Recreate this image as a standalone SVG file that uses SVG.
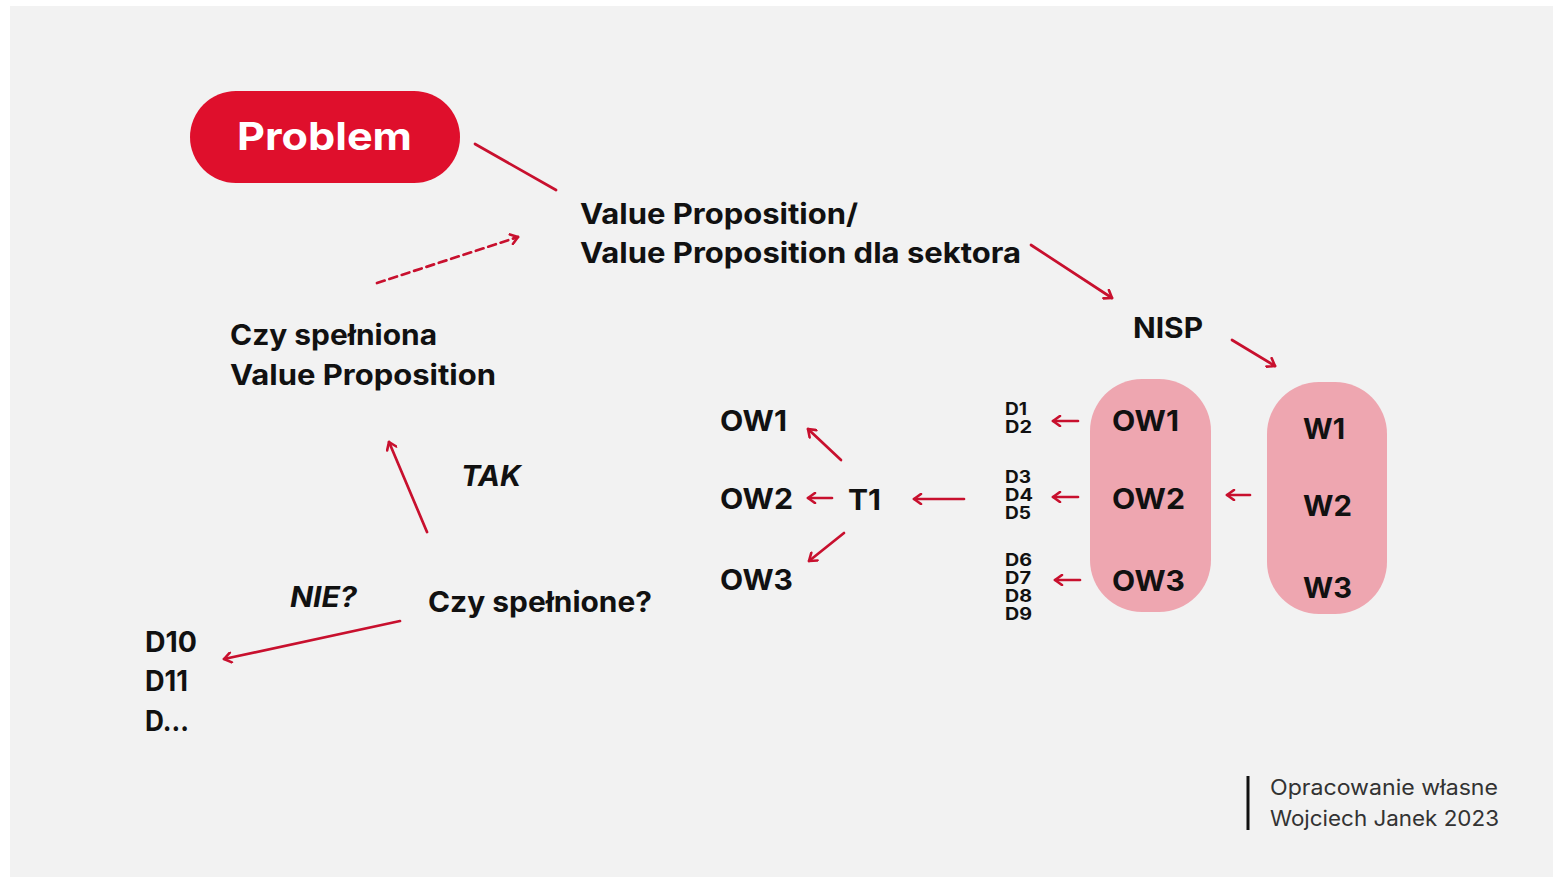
<svg xmlns="http://www.w3.org/2000/svg" width="1553" height="878" viewBox="0 0 1553 878">
  <defs>
    <marker id="head" viewBox="0 0 12 12" refX="10" refY="6" markerWidth="12" markerHeight="12" markerUnits="userSpaceOnUse" orient="auto">
      <path d="M3,1 L10,6 L3,11" fill="none" stroke="#c8102e" stroke-width="2.6" stroke-linecap="round" stroke-linejoin="round"/>
    </marker>
    <style>
      text { font-family: Inter, "Liberation Sans", sans-serif; }
      .b { font-weight: 700; fill: #111; }
      .bi { font-weight: 700; font-style: italic; fill: #111; }
      .l { font-size: 28px; }
      .s { font-size: 17px; }
      .foot { font-weight: 400; font-size: 21px; fill: #333; }
      .arr { fill: none; stroke: #c8102e; stroke-width: 2.7; stroke-linecap: round; }
      .pill { fill: #eea6b0; }
    </style>
  </defs>

  <!-- backdrop -->
  <rect x="0" y="0" width="1553" height="878" fill="#ffffff"/>
  <rect x="10" y="6" width="1543" height="871" fill="#f2f2f2"/>

  <g id="problem">
    <rect x="190" y="91" width="270" height="92" rx="46" fill="#df0f2c"/>
    <text x="237" y="150" font-weight="700" font-size="38" fill="#ffffff" textLength="175" lengthAdjust="spacingAndGlyphs">Problem</text>
  </g>

  <g id="value-proposition">
    <text class="b l" x="580" y="224" textLength="278" lengthAdjust="spacingAndGlyphs">Value Proposition/</text>
    <text class="b l" x="580" y="263" textLength="441" lengthAdjust="spacingAndGlyphs">Value Proposition dla sektora</text>
  </g>

  <g id="nisp">
    <text class="b l" x="1133" y="338" textLength="70" lengthAdjust="spacingAndGlyphs">NISP</text>
  </g>

  <g id="w-group">
    <rect class="pill" x="1267" y="382" width="120" height="232" rx="52"/>
    <text class="b l" x="1303" y="439" textLength="42" lengthAdjust="spacingAndGlyphs">W1</text>
    <text class="b l" x="1303" y="516" textLength="49" lengthAdjust="spacingAndGlyphs">W2</text>
    <text class="b l" x="1303" y="598" textLength="49" lengthAdjust="spacingAndGlyphs">W3</text>
  </g>

  <g id="ow-group">
    <rect class="pill" x="1090" y="379" width="121" height="233" rx="52"/>
    <text class="b l" x="1112" y="431" textLength="67" lengthAdjust="spacingAndGlyphs">OW1</text>
    <text class="b l" x="1112" y="509" textLength="73" lengthAdjust="spacingAndGlyphs">OW2</text>
    <text class="b l" x="1112" y="591" textLength="73" lengthAdjust="spacingAndGlyphs">OW3</text>
  </g>

  <g id="d-lists">
    <text class="b s" x="1005" y="415" textLength="22" lengthAdjust="spacingAndGlyphs">D1</text>
    <text class="b s" x="1005" y="433" textLength="27" lengthAdjust="spacingAndGlyphs">D2</text>
    <text class="b s" x="1005" y="483" textLength="26" lengthAdjust="spacingAndGlyphs">D3</text>
    <text class="b s" x="1005" y="501" textLength="28" lengthAdjust="spacingAndGlyphs">D4</text>
    <text class="b s" x="1005" y="519" textLength="26" lengthAdjust="spacingAndGlyphs">D5</text>
    <text class="b s" x="1005" y="566" textLength="27" lengthAdjust="spacingAndGlyphs">D6</text>
    <text class="b s" x="1005" y="584" textLength="26" lengthAdjust="spacingAndGlyphs">D7</text>
    <text class="b s" x="1005" y="602" textLength="27" lengthAdjust="spacingAndGlyphs">D8</text>
    <text class="b s" x="1005" y="620" textLength="27" lengthAdjust="spacingAndGlyphs">D9</text>
  </g>

  <g id="t1">
    <text class="b l" x="848" y="510" textLength="33" lengthAdjust="spacingAndGlyphs">T1</text>
  </g>

  <g id="t1-outputs">
    <text class="b l" x="720" y="431" textLength="67" lengthAdjust="spacingAndGlyphs">OW1</text>
    <text class="b l" x="720" y="509" textLength="73" lengthAdjust="spacingAndGlyphs">OW2</text>
    <text class="b l" x="720" y="590" textLength="73" lengthAdjust="spacingAndGlyphs">OW3</text>
  </g>

  <g id="czy-spelniona">
    <text class="b l" x="230" y="345" textLength="207" lengthAdjust="spacingAndGlyphs">Czy spełniona</text>
    <text class="b l" x="230" y="385" textLength="266" lengthAdjust="spacingAndGlyphs">Value Proposition</text>
  </g>

  <g id="czy-spelnione">
    <text class="b l" x="428" y="612" textLength="224" lengthAdjust="spacingAndGlyphs">Czy spełnione?</text>
  </g>

  <g id="labels">
    <text class="bi l" x="461" y="486" textLength="60" lengthAdjust="spacingAndGlyphs">TAK</text>
    <text class="bi l" x="290" y="607" textLength="67" lengthAdjust="spacingAndGlyphs">NIE?</text>
  </g>

  <g id="d-more">
    <text class="b l" x="145" y="652" textLength="52" lengthAdjust="spacingAndGlyphs">D10</text>
    <text class="b l" x="145" y="691" textLength="43" lengthAdjust="spacingAndGlyphs">D11</text>
    <text class="b l" x="145" y="731" textLength="44" lengthAdjust="spacingAndGlyphs">D...</text>
  </g>

  <g id="connectors">
    <line class="arr" x1="475" y1="144" x2="556" y2="190"/>
    <line class="arr" x1="377" y1="283" x2="518" y2="237" stroke-dasharray="8 5" marker-end="url(#head)"/>
    <line class="arr" x1="1031" y1="245" x2="1112" y2="298" marker-end="url(#head)"/>
    <line class="arr" x1="1232" y1="340" x2="1275" y2="366" marker-end="url(#head)"/>
    <line class="arr" x1="1250" y1="495" x2="1227" y2="495" marker-end="url(#head)"/>
    <line class="arr" x1="1078" y1="421" x2="1053" y2="421" marker-end="url(#head)"/>
    <line class="arr" x1="1078" y1="497" x2="1053" y2="497" marker-end="url(#head)"/>
    <line class="arr" x1="1080" y1="580" x2="1055" y2="580" marker-end="url(#head)"/>
    <line class="arr" x1="964" y1="499" x2="914" y2="499" marker-end="url(#head)"/>
    <line class="arr" x1="832" y1="498" x2="808" y2="498" marker-end="url(#head)"/>
    <line class="arr" x1="841" y1="460" x2="808" y2="429" marker-end="url(#head)"/>
    <line class="arr" x1="844" y1="533" x2="809" y2="561" marker-end="url(#head)"/>
    <line class="arr" x1="427" y1="532" x2="389" y2="442" marker-end="url(#head)"/>
    <line class="arr" x1="400" y1="621" x2="224" y2="659" marker-end="url(#head)"/>
  </g>

  <g id="credit">
    <line x1="1248" y1="776" x2="1248" y2="830" stroke="#111" stroke-width="3"/>
    <text class="foot" x="1270" y="795" textLength="228" lengthAdjust="spacingAndGlyphs">Opracowanie własne</text>
    <text class="foot" x="1270" y="826" textLength="229" lengthAdjust="spacingAndGlyphs">Wojciech Janek 2023</text>
  </g>
</svg>
